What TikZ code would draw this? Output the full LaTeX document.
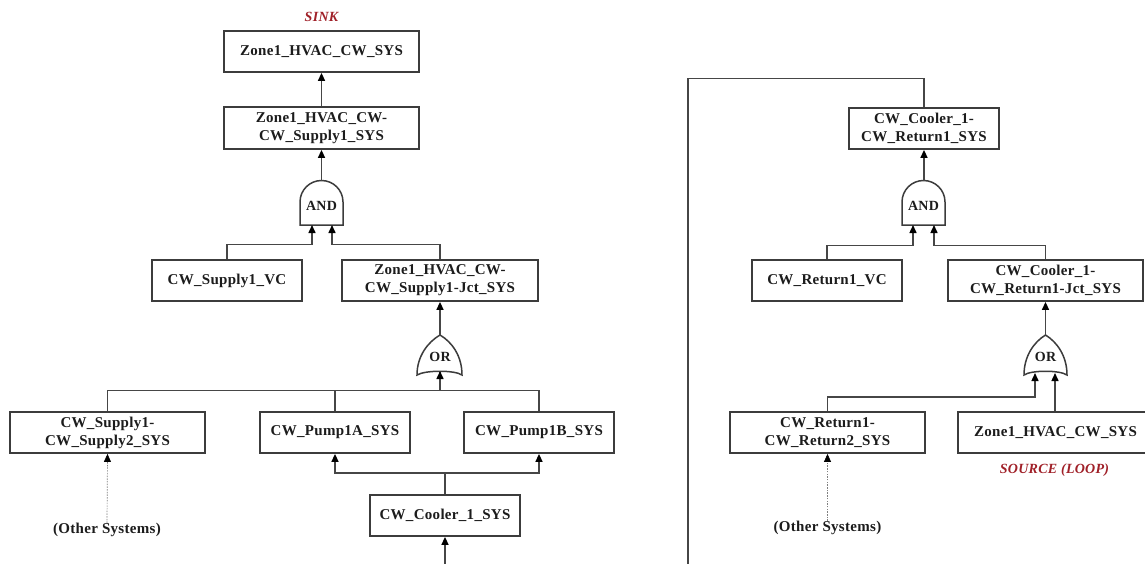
\documentclass[tikz,border=0pt]{standalone}
\usepackage{fontspec}
\setmainfont{Liberation Serif}[LetterSpace=2]
\usetikzlibrary{arrows.meta}
\definecolor{boxgray}{RGB}{60,60,60}
\definecolor{linegray}{RGB}{70,70,70}
\definecolor{textblack}{RGB}{28,28,28}
\definecolor{notered}{RGB}{160,32,40}

\begin{document}
\begin{tikzpicture}[x=1pt,y=-1pt,
  box/.style={draw=boxgray, line width=1.8pt, fill=white, minimum height=41pt,
    inner sep=0pt, align=center, text=textblack,
    font=\fontsize{15}{18}\selectfont\bfseries},
  wide/.style={box, minimum width=195pt},
  narrow/.style={box, minimum width=150pt},
  wire/.style={draw=linegray, line width=1.5pt},
  tip/.style={-{Triangle[width=7pt,length=8pt,color=black,fill=black]}},
  feed/.style={wire, tip},
  hint/.style={draw=gray, line width=0.7pt, dash pattern=on 1.5pt off 1.2pt, tip},
  gate/.style={draw=boxgray, line width=1.5pt, fill=white},
  gatetext/.style={text=textblack, inner sep=0pt, font=\fontsize{14}{16}\selectfont\bfseries},
  remark/.style={text=notered, inner sep=0pt, font=\fontsize{14}{16}\selectfont\bfseries\itshape},
  plain/.style={text=textblack, inner sep=0pt, font=\fontsize{15}{18}\selectfont\bfseries}
]
\useasboundingbox (0,0) rectangle (1145,563);
\clip (0,0) rectangle (1145,563);
\fill[white] (0,0) rectangle (1145,563);

% ---------------- supply side ----------------
\node[remark] (sink) at (321.5,17) {SINK};
\node[wide] (zone) at (321.5,51.5) {Zone1\_HVAC\_CW\_SYS};
\node[wide, minimum height=42pt] (sup) at (321.5,128) {Zone1\_HVAC\_CW-\\CW\_Supply1\_SYS};

% AND gate of the supply branch
\draw[gate] (300,225) -- (300,202) .. controls (300,190.1) and (309.6,180.5) .. (321.5,180.5)
  .. controls (333.4,180.5) and (343,190.1) .. (343,202) -- (343,225) -- cycle;
\node[gatetext] (andL) at (321.5,206) {AND};
\coordinate (andLtop) at (321.5,180.5);
\coordinate (andLin1) at (312,225);
\coordinate (andLin2) at (332,225);

\node[narrow] (vcL) at (227,280.5) {CW\_Supply1\_VC};
\node[wide, minimum width=196pt] (jctL) at (440,280.5) {Zone1\_HVAC\_CW-\\CW\_Supply1-Jct\_SYS};

% OR gate of the supply junction
\draw[gate] (440,335) .. controls (428,342) and (417,356) .. (417,375)
  .. controls (425,370) and (455,370) .. (462,375)
  .. controls (462,356) and (452,342) .. (440,335) -- cycle;
\node[gatetext] (orL) at (440,357) {OR};
\coordinate (orLtop) at (440,335);
\coordinate (orLin) at (440,371);

\node[wide] (s12) at (107.5,432.5) {CW\_Supply1-\\CW\_Supply2\_SYS};
\node[narrow] (p1a) at (335,432.5) {CW\_Pump1A\_SYS};
\node[narrow] (p1b) at (539,432.5) {CW\_Pump1B\_SYS};
\node[narrow] (cool) at (445,515.5) {CW\_Cooler\_1\_SYS};
\node[plain] (othL) at (107,530) {(Other Systems)};
\coordinate (coolIn) at (445,570);

\draw[feed] (sup.north) -- (zone.south);
\draw[feed] (andLtop) -- (sup.south);
\draw[feed] (vcL.north) -- ++(0,-14.5) -| (andLin1);
\draw[feed] (jctL.north) -- ++(0,-14.5) -| (andLin2);
\draw[feed] (orLtop) -- (jctL.south);
\draw[wire] (s12.north) -- ++(0,-20.5) -| (orLin);
\draw[wire] (p1a.north) -- ++(0,-20.5) -| (orLin);
\draw[feed] (p1b.north) -- ++(0,-20.5) -| (orLin);
\draw[feed] (cool.north) -- ++(0,-21) -| (p1a.south);
\draw[feed] (cool.north) -- ++(0,-21) -| (p1b.south);
\draw[feed] (coolIn) -- (cool.south);
\draw[hint] (othL.north) -- (s12.south);

% ---------------- return side ----------------
\node[narrow] (cr1) at (924,128.5) {CW\_Cooler\_1-\\CW\_Return1\_SYS};

% AND gate of the return branch
\draw[gate] (902,225) -- (902,202) .. controls (902,190.1) and (911.6,180.5) .. (923.5,180.5)
  .. controls (935.4,180.5) and (945,190.1) .. (945,202) -- (945,225) -- cycle;
\node[gatetext] (andR) at (923.5,206) {AND};
\coordinate (andRtop) at (924,180.5);
\coordinate (andRin1) at (913,225);
\coordinate (andRin2) at (934,225);

\node[narrow] (vcR) at (827,280.5) {CW\_Return1\_VC};
\node[wide] (jctR) at (1045.5,280.5) {CW\_Cooler\_1-\\CW\_Return1-Jct\_SYS};

% OR gate of the return junction
\draw[gate] (1045.5,335) .. controls (1034,342) and (1024,356) .. (1024,375)
  .. controls (1031,370) and (1060,370) .. (1067,375)
  .. controls (1067,356) and (1057,342) .. (1045.5,335) -- cycle;
\node[gatetext] (orR) at (1045.5,357) {OR};
\coordinate (orRtop) at (1045.5,335);
\coordinate (orRin1) at (1035,373);
\coordinate (orRin2) at (1055,373);

\node[wide] (r12) at (827.5,432.5) {CW\_Return1-\\CW\_Return2\_SYS};
\node[wide] (src) at (1055.5,432.5) {Zone1\_HVAC\_CW\_SYS};
\node[remark] (srcnote) at (1054.5,470) {SOURCE (LOOP)};
\node[plain] (othR) at (827.5,528) {(Other Systems)};
\coordinate (loopDown) at (688,570);

\draw[wire] (cr1.north) -- ++(0,-28.5) -| (loopDown);
\draw[feed] (andRtop) -- (cr1.south);
\draw[feed] (vcR.north) -- ++(0,-13.5) -| (andRin1);
\draw[feed] (jctR.north) -- ++(0,-13.5) -| (andRin2);
\draw[feed] (orRtop) -- (jctR.south);
\draw[feed] (r12.north) -- ++(0,-14) -| (orRin1);
\draw[feed] (src.north -| orRin2) -- (orRin2);
\draw[hint] (othR.north) -- (r12.south);
\end{tikzpicture}
\end{document}
